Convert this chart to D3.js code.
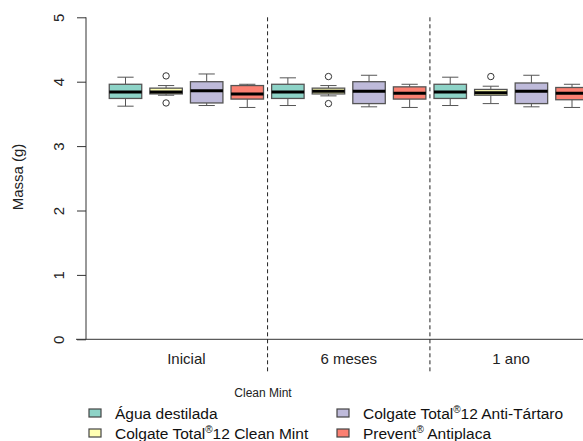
<!DOCTYPE html>
<html>
<head>
<meta charset="utf-8">
<script src="https://cdn.jsdelivr.net/npm/d3@7"></script>
<style>
html,body{margin:0;padding:0;background:#fff;}
svg{display:block;font-family:"Liberation Sans",Arial,sans-serif;}
</style>
</head>
<body>
<svg id="chart" width="583" height="441"></svg>
<script>
// ---- data ----
const groups = ["Inicial", "6 meses", "1 ano"];
const treatments = ["Água destilada", "Colgate Total®12 Clean Mint", "Colgate Total®12 Anti-Tártaro", "Prevent® Antiplaca"];
const colors = ["#8DD3C7", "#FFFFB3", "#BEBADA", "#FB8072"];
const yTicks = [0, 1, 2, 3, 4, 5];
// per box (group-major): [lowWhisker, q1, median, q3, highWhisker]
const stats = [
  [3.62, 3.74, 3.84, 3.96, 4.07],
  [3.79, 3.81, 3.84, 3.90, 3.94],
  [3.63, 3.67, 3.86, 4.00, 4.12],
  [3.60, 3.73, 3.81, 3.94, 3.96],
  [3.63, 3.74, 3.84, 3.96, 4.06],
  [3.78, 3.81, 3.85, 3.90, 3.94],
  [3.61, 3.66, 3.85, 4.00, 4.10],
  [3.60, 3.73, 3.82, 3.92, 3.96],
  [3.63, 3.74, 3.84, 3.96, 4.07],
  [3.66, 3.79, 3.83, 3.88, 3.93],
  [3.61, 3.66, 3.85, 3.98, 4.10],
  [3.60, 3.72, 3.82, 3.91, 3.96]
];
const outliers = [
  [], [4.09, 3.67], [], [],
  [], [4.08, 3.66], [], [],
  [], [4.08], [], []
];
const legendTitle = "Clean Mint";
const yLabel = "Massa (g)";

// ---- drawing ----
const svg = d3.select("#chart");
const x = d3.scaleLinear().domain([1, 12]).range([125.5, 572]);
const y = d3.scaleLinear().domain([0, 5]).range([339.3, 17.3]);
const bw = (x(2) - x(1)) * 0.8;
const axisColor = "#333";

// y axis
const yAxis = svg.append("g").attr("transform", "translate(86,0)")
  .call(d3.axisLeft(y).tickValues(yTicks).tickSize(9).tickPadding(0).tickFormat(d3.format("d")));
yAxis.select(".domain").attr("stroke", axisColor).attr("d", `M0,${y(5)}V${y(0)}`);
yAxis.selectAll(".tick line").attr("stroke", axisColor);
yAxis.selectAll(".tick text").remove();
yAxis.selectAll(".tick").append("text")
  .attr("transform", "translate(-22,0) rotate(-90)")
  .attr("text-anchor", "middle")
  .attr("fill", "#222").attr("font-size", 15)
  .text(d => d);

// x axis line
svg.append("line").attr("x1", 76).attr("x2", 583).attr("y1", y(0)).attr("y2", y(0))
  .attr("stroke", axisColor).attr("stroke-width", 1);

// y label
svg.append("text").attr("transform", `translate(23,177) rotate(-90)`)
  .attr("text-anchor", "middle").attr("font-size", 15).attr("fill", "#222").text(yLabel);

// separators
[4.5, 8.5].forEach(p => {
  svg.append("line").attr("x1", x(p)).attr("x2", x(p)).attr("y1", y(5)).attr("y2", 374)
    .attr("stroke", "#222").attr("stroke-dasharray", "4,3");
});

// group labels
groups.forEach((g, i) => {
  svg.append("text").attr("x", x(i * 4 + 2.5)).attr("y", 364)
    .attr("text-anchor", "middle").attr("font-size", 15).attr("fill", "#222").text(g);
});

// boxes
const boxes = svg.append("g");
stats.forEach((s, i) => {
  const cx = x(i + 1);
  const col = colors[i % 4];
  const g = boxes.append("g");
  // whiskers
  g.append("line").attr("x1", cx).attr("x2", cx).attr("y1", y(s[4])).attr("y2", y(s[3])).attr("stroke", "#555");
  g.append("line").attr("x1", cx).attr("x2", cx).attr("y1", y(s[1])).attr("y2", y(s[0])).attr("stroke", "#555");
  g.append("line").attr("x1", cx - bw / 4).attr("x2", cx + bw / 4).attr("y1", y(s[4])).attr("y2", y(s[4])).attr("stroke", "#555");
  g.append("line").attr("x1", cx - bw / 4).attr("x2", cx + bw / 4).attr("y1", y(s[0])).attr("y2", y(s[0])).attr("stroke", "#555");
  // box
  g.append("rect").attr("x", cx - bw / 2).attr("width", bw)
    .attr("y", y(s[3])).attr("height", y(s[1]) - y(s[3]))
    .attr("fill", col).attr("stroke", "#555").attr("stroke-width", 1.3);
  // median
  g.append("line").attr("x1", cx - bw / 2).attr("x2", cx + bw / 2).attr("y1", y(s[2])).attr("y2", y(s[2]))
    .attr("stroke", "#000").attr("stroke-width", 3);
  outliers[i].forEach(o => {
    g.append("circle").attr("cx", cx).attr("cy", y(o)).attr("r", 3.2)
      .attr("fill", "none").attr("stroke", "#333");
  });
});

// legend
svg.append("text").attr("x", 263).attr("y", 397).attr("text-anchor", "middle")
  .attr("font-size", 12).attr("fill", "#222").text(legendTitle);
const legPos = [[89, 419], [89, 439], [337, 419], [337, 439]];
treatments.forEach((t, i) => {
  const [lx, ly] = legPos[i];
  svg.append("rect").attr("x", lx).attr("y", ly - 10).attr("width", 12).attr("height", 8)
    .attr("fill", colors[i]).attr("stroke", "#444").attr("stroke-width", 1.2);
  const txt = svg.append("text").attr("x", lx + 26).attr("y", ly)
    .attr("font-size", 15.5).attr("fill", "#111");
  const parts = t.split("®");
  parts.forEach((p, j) => {
    if (j > 0) {
      txt.append("tspan").attr("dy", -6).attr("font-size", 10).text("®");
      txt.append("tspan").attr("dy", 6).text(p);
    } else {
      txt.append("tspan").text(p);
    }
  });
});
</script>
</body>
</html>
